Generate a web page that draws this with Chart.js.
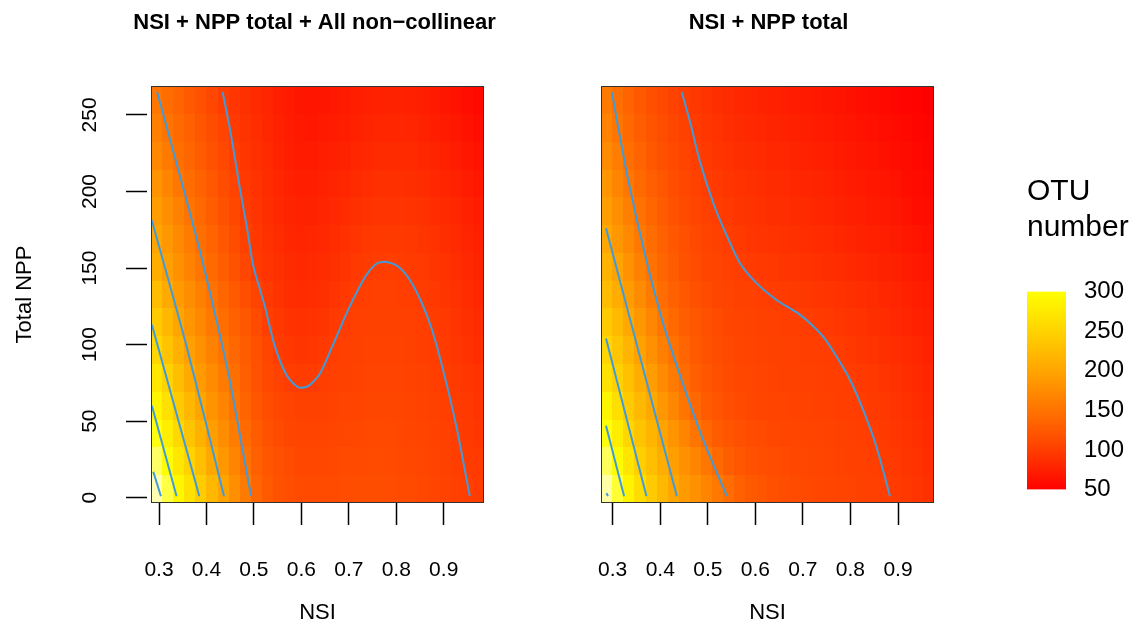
<!DOCTYPE html>
<html>
<head>
<meta charset="utf-8">
<script src="https://cdn.jsdelivr.net/npm/chart.js@4.4.1/dist/chart.umd.min.js"></script>
<style>
  html, body { margin: 0; padding: 0; background: #fff; overflow: hidden; }
  canvas { position: absolute; top: 0; }
  #full { left: 0; }
  #nppOnly { left: 560px; }
  #otuScale { left: 1000px; }
</style>
</head>
<body>
<canvas id="full" width="560" height="640"></canvas>
<canvas id="nppOnly" width="440" height="640"></canvas>
<canvas id="otuScale" width="135" height="640"></canvas>
<script>
const FONT = "'Liberation Sans', Arial, Helvetica, sans-serif";

// grid cell centres
const nsiFull = [0.295, 0.318, 0.342, 0.365, 0.388, 0.412, 0.435, 0.459, 0.482, 0.505,
  0.529, 0.552, 0.575, 0.599, 0.622, 0.646, 0.669, 0.692, 0.716, 0.739,
  0.763, 0.786, 0.809, 0.833, 0.856, 0.880, 0.903, 0.926, 0.950, 0.973];
const nsiNpp = [0.287, 0.310, 0.334, 0.357, 0.381, 0.404, 0.427, 0.451, 0.474, 0.497,
  0.521, 0.544, 0.567, 0.591, 0.614, 0.637, 0.661, 0.684, 0.707, 0.731,
  0.754, 0.777, 0.801, 0.824, 0.847, 0.871, 0.894, 0.917, 0.941, 0.964];
const nppRows = [5.6, 23.8, 41.9, 60.1, 78.2, 96.4, 114.5, 132.7, 150.8, 169, 187.1, 205.3, 223.4, 241.6, 259.7];

// predicted OTU number, one row per nppRows entry (bottom to top)
const otuFull = [
  [356,321,290,266,242,220,198,178,158,136,126,119,115,112,111,112,112,113,114,114,114,113,112,111,109,107,104,102,101,98],
  [332,298,273,249,227,205,186,167,148,133,123,116,112,109,109,109,110,111,111,112,112,111,110,109,107,105,103,101,99,96],
  [305,281,256,234,213,193,176,159,142,128,119,112,108,106,106,106,107,108,109,110,110,110,109,107,106,104,102,100,97,94],
  [289,265,241,220,200,183,167,150,135,123,115,109,105,103,103,103,104,105,106,107,108,108,107,106,104,103,101,99,96,92],
  [272,249,227,206,189,174,158,146,131,119,110,104,100,99,99,101,102,103,104,105,105,105,105,104,103,101,100,97,94,90],
  [253,233,212,194,179,164,150,139,128,118,108,99,95,93,94,97,101,102,103,104,104,104,104,103,101,100,98,94,90,86],
  [240,220,200,185,171,156,144,133,122,112,101,95,91,89,90,93,97,100,102,103,103,103,103,102,101,99,96,92,88,84],
  [226,206,190,176,162,148,137,126,115,105,97,91,87,85,86,88,92,96,100,101,102,102,101,101,99,96,93,89,85,81],
  [210,195,180,166,152,141,130,119,108,97,92,88,84,82,83,85,88,92,96,99,100,101,100,98,96,93,90,86,82,78],
  [200,186,172,159,146,135,124,114,103,95,89,85,81,79,80,82,85,89,92,95,96,97,96,95,93,90,87,83,79,75],
  [192,178,164,150,140,129,119,109,99,92,87,82,78,76,77,79,82,85,88,90,92,92,92,91,89,86,83,80,76,72],
  [182,168,154,143,134,124,114,105,96,90,85,80,76,74,74,76,78,81,84,86,88,88,88,87,85,82,79,76,72,68],
  [171,158,146,137,128,119,110,101,94,88,83,78,74,71,71,73,75,77,80,82,84,84,84,83,81,78,75,72,68,64],
  [162,150,141,132,123,114,105,97,91,86,81,76,72,69,68,70,72,74,76,78,80,80,80,79,77,74,71,68,64,60],
  [153,144,135,126,118,109,100,94,88,83,79,74,70,67,66,67,69,71,73,75,76,77,76,75,73,70,67,64,60,56]
];
const otuNpp = [
  [352,316,286,261,240,221,202,190,179,167,155,143,132,125,120,117,114,112,110,109,107,106,105,103,102,101,98,95,92,88],
  [329,295,270,246,228,209,193,180,167,153,140,130,123,118,115,113,111,109,108,107,106,104,103,102,101,99,96,93,90,86],
  [303,279,254,234,216,198,182,167,152,138,128,121,116,113,111,109,108,107,106,105,104,103,102,101,100,97,94,91,88,84],
  [287,263,241,222,204,187,169,152,138,128,120,115,111,109,107,106,105,104,104,103,102,101,101,100,97,95,92,89,86,82],
  [266,248,229,210,192,175,157,143,131,122,116,112,109,107,105,104,103,103,102,102,101,101,100,97,95,92,89,86,83,79],
  [253,235,216,197,180,163,148,136,126,119,114,110,107,105,104,103,102,102,101,101,100,98,96,93,91,88,86,83,80,76],
  [241,223,204,186,169,152,140,130,122,116,112,108,106,104,103,102,101,101,100,98,96,94,92,90,87,85,82,79,76,73],
  [225,209,192,175,158,143,132,124,117,112,108,105,103,102,101,100,98,97,95,94,92,90,88,86,84,81,79,76,73,70],
  [214,198,181,164,148,137,127,119,113,108,105,102,101,98,96,95,93,92,90,89,87,85,83,81,79,77,75,72,69,66],
  [203,187,172,155,143,133,124,116,110,106,103,100,97,94,92,91,89,88,86,85,83,81,79,77,75,73,71,68,65,62],
  [193,177,162,148,137,127,119,112,107,103,100,96,93,91,89,87,86,84,83,81,79,77,75,73,71,69,67,64,61,58],
  [184,168,154,141,131,122,115,109,104,100,96,93,90,88,86,84,83,81,79,78,76,74,72,70,68,66,64,61,58,56],
  [175,160,146,135,125,117,111,106,101,97,93,90,87,85,83,81,80,78,76,75,73,71,69,67,65,63,61,59,56,54],
  [166,152,140,130,121,114,108,103,98,94,90,87,84,82,80,78,77,75,73,72,70,68,66,64,62,60,58,56,54,52],
  [158,146,135,125,117,110,104,100,95,91,87,84,81,79,77,75,74,72,70,69,67,65,63,61,59,57,55,53,52,50]
];

const nsiTicks = [0.3, 0.4, 0.5, 0.6, 0.7, 0.8, 0.9];
const nppTicks = [0, 50, 100, 150, 200, 250];
const otuTicks = [50, 100, 150, 200, 250, 300];

// contour lines, [NSI, total NPP] pairs, levels 100 ... 350
const full100 = [[0.434,265],[0.450,240],[0.471,201],[0.485,177],[0.499,151],[0.523,125],[0.544,99],[0.569,80],
  [0.594,72],[0.615,73],[0.639,81],[0.664,98],[0.699,123],[0.734,144],[0.759,153],[0.780,154],[0.804,151],
  [0.829,142],[0.854,127],[0.875,110],[0.899,83],[0.927,46],[0.955,1]];
const full150 = [[0.296,265],[0.340,215],[0.383,165],[0.418,120],[0.447,80],[0.471,40],[0.494,1]];
const full200 = [[0.285,181],[0.358,99],[0.437,1]];
const full250 = [[0.285,113],[0.385,1]];
const full300 = [[0.285,60],[0.337,1]];
const full350 = [[0.288,17],[0.304,1]];

const npp100 = [[0.445,265],[0.463,245],[0.484,219],[0.512,192],[0.540,171],[0.568,153],[0.603,140],[0.645,129],
  [0.687,121],[0.715,114],[0.743,105],[0.771,92],[0.799,77],[0.827,57],[0.855,33],[0.883,1]];
const npp150 = [[0.298,265],[0.331,210],[0.367,160],[0.405,115],[0.447,75],[0.490,38],[0.540,1]];
const npp200 = [[0.286,176],[0.435,1]];
const npp250 = [[0.286,104],[0.371,1]];
const npp300 = [[0.286,47],[0.324,1]];
const npp350 = [[0.287,3],[0.290,1]];

// red -> yellow over 50..300, then fading towards white
const P = 0.75, LO = Math.pow(50, P), HI = Math.pow(300, P);
function heatColor(v) {
  if (v <= 300) {
    const t = Math.min(Math.max((Math.pow(v, P) - LO) / (HI - LO), 0), 1);
    return `rgb(255,${Math.round(255 * t)},0)`;
  }
  const s = Math.max(1 - (v - 300) / 80, 0.25);
  return `rgb(255,255,${Math.round(255 * (1 - s))})`;
}

function cellEdges(c) {
  const n = c.length;
  const e = [c[0] - (c[1] - c[0]) / 2];
  for (let i = 1; i < n; i++) e.push((c[i - 1] + c[i]) / 2);
  e.push(c[n - 1] + (c[n - 1] - c[n - 2]) / 2);
  return e;
}

function heatLayer(nsi, npp, otu) {
  return {
    id: 'heatLayer',
    beforeDatasetsDraw(chart) {
      const { ctx, chartArea: a, scales: { x, y } } = chart;
      const xe = cellEdges(nsi).map(v => Math.round(x.getPixelForValue(v)));
      const ye = cellEdges(npp).map(v => Math.round(y.getPixelForValue(v)));
      ctx.save();
      ctx.beginPath();
      ctx.rect(a.left, a.top, a.width, a.height);
      ctx.clip();
      otu.forEach((row, j) => row.forEach((v, i) => {
        ctx.fillStyle = heatColor(v);
        ctx.fillRect(xe[i], ye[j + 1], xe[i + 1] - xe[i], ye[j] - ye[j + 1]);
      }));
      ctx.restore();
    }
  };
}

// give the panel title more room than the plot width so it is not squeezed
function titleRoom(shift) {
  return {
    id: 'titleRoom',
    afterLayout(chart) {
      const t = chart.titleBlock;
      if (!t) return;
      t.left += shift - 70;
      t.right += shift + 70;
      t.width = t.right - t.left;
    }
  };
}

const frame = {
  id: 'frame',
  afterDraw(chart) {
    const { ctx, chartArea: a } = chart;
    ctx.save();
    ctx.strokeStyle = '#333';
    ctx.lineWidth = 1;
    ctx.strokeRect(Math.round(a.left) + 0.5, Math.round(a.top) + 0.5,
      Math.round(a.width) - 1, Math.round(a.height) - 1);
    ctx.restore();
  }
};

function contourSets(lines) {
  return lines.map(pts => ({
    type: 'scatter',
    showLine: true,
    pointRadius: 0,
    borderColor: '#3f9bdc',
    borderWidth: 2,
    tension: 0.25,
    data: pts.map(([x, y]) => ({ x, y }))
  }));
}

function panel(id, title, nsi, otu, lines, xMin, xMax, showY, padding, shift) {
  return new Chart(document.getElementById(id), {
    type: 'scatter',
    data: { datasets: contourSets(lines) },
    options: {
      responsive: false,
      animation: false,
      devicePixelRatio: 1,
      layout: { padding },
      plugins: {
        legend: { display: false },
        tooltip: { enabled: false },
        title: {
          display: true, text: title, fullSize: false, color: '#000',
          font: { family: FONT, size: 22, weight: 'bold' },
          padding: { top: 10, bottom: 49.6 }
        }
      },
      scales: {
        x: {
          type: 'linear', min: xMin, max: xMax,
          afterBuildTicks: s => { s.ticks = nsiTicks.map(value => ({ value })); },
          afterFit: s => { s.height = 137; },
          grid: { drawOnChartArea: false, tickLength: 22, tickColor: '#000', tickWidth: 1.5 },
          border: { display: false },
          ticks: { color: '#000', font: { family: FONT, size: 21 }, padding: 33, maxRotation: 0,
            callback: v => v.toFixed(1) },
          title: { display: true, text: 'NSI', color: '#000', font: { family: FONT, size: 22 }, padding: 14 }
        },
        y: {
          type: 'linear', min: -3.46, max: 268.9, display: showY,
          afterBuildTicks: s => { s.ticks = nppTicks.map(value => ({ value })); },
          afterFit: s => { s.width = showY ? 151 : 0; },
          grid: { drawOnChartArea: false, tickLength: 25, tickColor: '#000', tickWidth: 1.5,
            tickBorderDash: [21, 10] },
          border: { display: false },
          ticks: { color: '#000', font: { family: FONT, size: 21 }, padding: 18.5,
            minRotation: 90, maxRotation: 90, crossAlign: 'center', callback: v => String(v) },
          title: { display: true, text: 'Total NPP', color: '#000', font: { family: FONT, size: 22 }, padding: 12 }
        }
      }
    },
    plugins: [heatLayer(nsi, nppRows, otu), frame, titleRoom(shift)]
  });
}

panel('full', 'NSI + NPP total + All non\u2212collinear', nsiFull, otuFull,
  [full100, full150, full200, full250, full300, full350], 0.2831, 0.9849, true,
  { left: 0, right: 76, top: 0, bottom: 0 }, -3);

panel('nppOnly', 'NSI + NPP total', nsiNpp, otuNpp,
  [npp100, npp150, npp200, npp250, npp300, npp350], 0.2754, 0.9757, false,
  { left: 41, right: 66, top: 0, bottom: 0 }, 1);

// colour key
new Chart(document.getElementById('otuScale'), {
  type: 'bar',
  data: {
    labels: [''],
    datasets: [{
      data: [[otuTicks[0], otuTicks[otuTicks.length - 1]]],
      borderWidth: 0,
      barPercentage: 1,
      categoryPercentage: 1,
      backgroundColor(c) {
        const chart = c.chart;
        if (!chart.chartArea) return heatColor(50);
        const y = chart.scales.y;
        const g = chart.ctx.createLinearGradient(0, y.getPixelForValue(50), 0, y.getPixelForValue(300));
        for (let v = 50; v <= 300; v += 10) g.addColorStop((v - 50) / 250, heatColor(v));
        return g;
      }
    }]
  },
  options: {
    responsive: false,
    animation: false,
    devicePixelRatio: 1,
    layout: { padding: { left: 27, right: 0, top: 174, bottom: 150.5 } },
    plugins: {
      legend: { display: false },
      tooltip: { enabled: false },
      title: {
        display: true, text: ['OTU', 'number'], align: 'start', color: '#000',
        font: { family: FONT, size: 30, weight: 'normal', lineHeight: 1.2 },
        padding: { top: 0, bottom: 45.5 }
      }
    },
    scales: {
      x: { display: false },
      y: {
        position: 'right', min: 50, max: 300, z: 1,
        afterBuildTicks: s => { s.ticks = otuTicks.map(value => ({ value })); },
        afterFit: s => { s.width = 69; },
        grid: {
          drawTicks: false,
          color: c => (c.tick && c.tick.value > 50 && c.tick.value < 300) ? 'rgba(255,255,255,0.85)' : 'rgba(0,0,0,0)'
        },
        border: { display: false, dash: [5, 29] },
        ticks: { color: '#000', font: { family: FONT, size: 24 }, padding: 18, callback: v => String(v) }
      }
    }
  }
});
</script>
</body>
</html>
